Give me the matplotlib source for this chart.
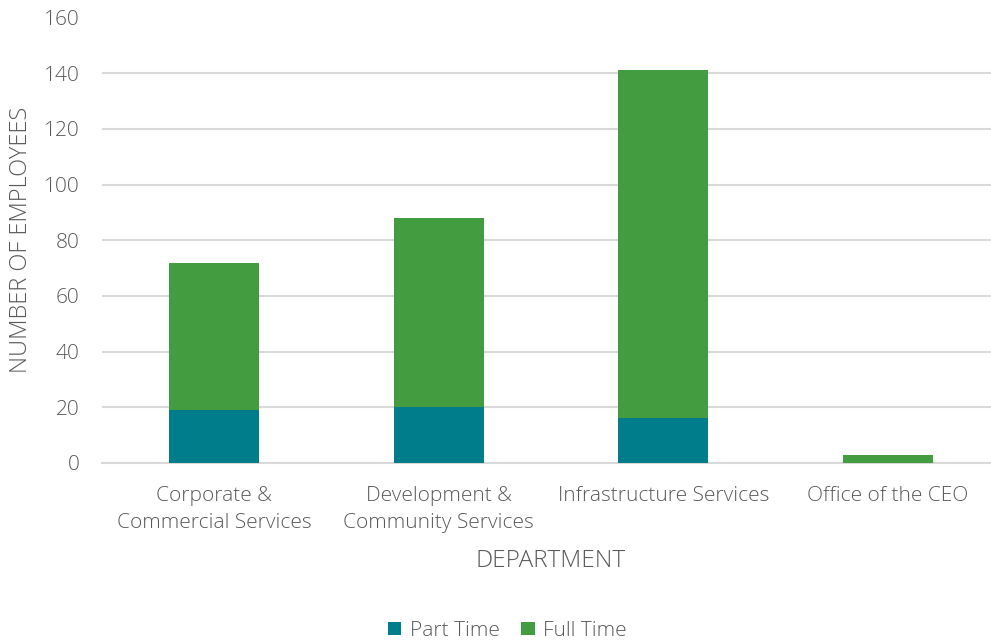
import matplotlib
matplotlib.use("Agg")
import matplotlib.pyplot as plt
import numpy as np

departments = ["Corporate &\nCommercial Services", "Development &\nCommunity Services",
               "Infrastructure Services", "Office of the CEO"]
part_time = [19, 20, 16, 0]
full_time = [53, 68, 125, 3]
y_ticks = [0, 20, 40, 60, 80, 100, 120, 140, 160]

TEAL = "#007D8A"
GREEN = "#439C3F"
TEXT = "#595959"
GRID = "#D9D9D9"

plt.rcParams['font.family'] = ['Open Sans', 'DejaVu Sans']

W, H = 991, 643
fig = plt.figure(figsize=(W / 100, H / 100), dpi=100)
ax_left, ax_right, ax_bottom, ax_top = 102, 1000, 463, 17.5
ax = fig.add_axes([ax_left / W, 1 - ax_bottom / H,
                   (ax_right - ax_left) / W, (ax_bottom - ax_top) / H])

x = np.arange(len(departments))
w = 0.40
ax.bar(x, part_time, w, color=TEAL, label="Part Time", zorder=3)
ax.bar(x, full_time, w, bottom=part_time, color=GREEN, label="Full Time", zorder=3)

ax.set_xlim(-0.5, len(departments) - 0.5)
ax.set_ylim(0, 160)
ax.set_yticks(y_ticks)
ax.yaxis.grid(True, color=GRID, linewidth=1.5, zorder=0)
ax.set_axisbelow(True)
for s in ["top", "right", "left"]:
    ax.spines[s].set_visible(False)
ax.spines["bottom"].set_color(GRID)
ax.spines["bottom"].set_linewidth(1.5)
ax.tick_params(axis="both", length=0, colors=TEXT, labelsize=15)
ax.tick_params(axis="y", pad=16)
ax.tick_params(axis="x", pad=16.5)
ax.set_xticks(x)
ax.set_xticklabels(departments, linespacing=1.45)
for lbl in ax.get_xticklabels() + ax.get_yticklabels():
    lbl.set_fontweight("light")

ax.set_ylabel("NUMBER OF EMPLOYEES", color=TEXT, fontsize=17, fontweight="light")
ax.yaxis.set_label_coords((33 - ax_left) / (ax_right - ax_left), 0.5)
ax.set_xlabel("DEPARTMENT", color=TEXT, fontsize=17.5, fontweight="light")
ax.xaxis.set_label_coords((551 - ax_left) / (ax_right - ax_left),
                          (ax_bottom - 549) / (ax_bottom - ax_top))

leg = fig.legend(loc="center", bbox_to_anchor=(0.512, 0.019), ncol=2, frameon=False,
                 fontsize=15, handlelength=0.65, handleheight=0.65, handletextpad=0.4,
                 columnspacing=1.05)
for t in leg.get_texts():
    t.set_color(TEXT)
    t.set_fontweight("light")

fig.savefig("out.png", dpi=100)
